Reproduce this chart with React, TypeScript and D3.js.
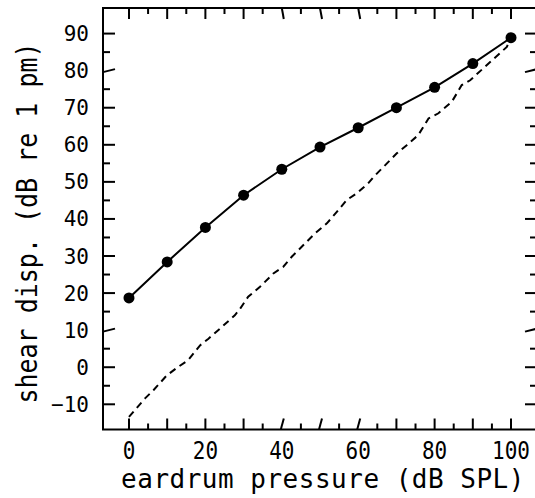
import React from "react";
import * as d3 from "d3";

const W = 535;
const H = 498;

// Solid series (measured points with markers)
const solidX = [0, 10, 20, 30, 40, 50, 60, 70, 80, 90, 100];
const solidY = [18.7, 28.4, 37.7, 46.4, 53.4, 59.4, 64.6, 70.0, 75.5, 81.9, 88.9];

// Dashed series
const dashX = [0, 4.2, 6.4, 9.9, 12.9, 15.5, 18.6, 20.8, 23.8, 27.7, 29.1, 31.2, 34.3, 37.8, 40.4, 42.6, 45.6, 48.7, 51.8, 54.4, 57.0, 59.6, 62.6, 64.0, 70.1, 72.7, 75.7, 78.4, 81.0, 84.5, 87.1, 89.3, 92.7, 98.9, 100];
const dashY = [-13.4, -8.4, -6.2, -2.2, 0.1, 1.9, 5.9, 7.7, 10.4, 14.0, 15.8, 19.0, 21.7, 25.3, 27.1, 29.8, 32.9, 36.1, 38.8, 41.9, 45.1, 46.9, 49.6, 51.3, 57.7, 59.9, 62.6, 67.1, 68.5, 71.6, 76.1, 77.4, 80.6, 86.4, 89.0];

const xTickLabels = [0, 20, 40, 60, 80, 100];
const yTickLabels = [-10, 0, 10, 20, 30, 40, 50, 60, 70, 80, 90];
const xTicks = d3.range(0, 101, 5);
const yTicks = d3.range(-10, 91, 5);
const xSlanted = [40, 50, 60];
const ySlanted = [10, 80];

const xLabel = "eardrum pressure (dB SPL)";
const yLabel = "shear disp. (dB re 1 pm)";

const FONT = "'DejaVu Sans Mono', monospace";

export default function App() {
  const x = d3.scaleLinear().domain([-6.8, 106.8]).range([103, 537]);
  const y = d3.scaleLinear().domain([-16.8, 96.9]).range([429.5, 8]);
  const left = x(-6.8), right = x(106.8), top = y(96.9), bottom = y(-16.8);

  const solidLine = d3.line<number>().x((_, i) => x(solidX[i])).y((d) => y(d));
  const dashLine = d3.line<number>().x((_, i) => x(dashX[i])).y((d) => y(d));

  const xMaj = 11, xMin = 6, yMaj = 12, yMin = 7;

  return (
    <svg width={W} height={H} style={{ position: "absolute", left: 0, top: 0, background: "#fff" }}>
      <rect x={0} y={0} width={W} height={H} fill="#fff" />
      {/* frame */}
      <rect x={left} y={top} width={right - left} height={bottom - top} fill="none" stroke="#000" strokeWidth={2} />
      {/* x ticks */}
      {xTicks.map((t) => {
        const major = t % 10 === 0;
        const len = major ? xMaj : xMin;
        const s = xSlanted.includes(t) ? 2 : 0;
        return (
          <g key={"xt" + t}>
            <line x1={x(t) - s / 2} y1={bottom} x2={x(t) + s} y2={bottom - len} stroke="#000" strokeWidth={2} />
            <line x1={x(t)} y1={top} x2={x(t) + s} y2={top + len} stroke="#000" strokeWidth={2} />
          </g>
        );
      })}
      {/* y ticks */}
      {yTicks.map((t) => {
        const major = t % 10 === 0;
        const len = major ? yMaj : yMin;
        const s = ySlanted.includes(t) ? 3 : 0;
        return (
          <g key={"yt" + t}>
            <line x1={left} y1={y(t) + s / 2} x2={left + len} y2={y(t) - s / 2} stroke="#000" strokeWidth={2} />
            <line x1={right} y1={y(t) - s / 2} x2={right - len} y2={y(t) + s / 2} stroke="#000" strokeWidth={2} />
          </g>
        );
      })}
      {/* tick labels */}
      {xTickLabels.map((t) => (
        <text key={"xl" + t} transform={`translate(${x(t)},459) scale(1,1.15)`} textAnchor="middle" fontFamily={FONT} fontSize={21} fill="#000">
          {t}
        </text>
      ))}
      {yTickLabels.map((t) => (
        <text key={"yl" + t} transform={`translate(89,${y(t)})`} dy="0.36em" textAnchor="end" fontFamily={FONT} fontSize={21} fill="#000">
          {t < 0 ? "\u2212" + Math.abs(t) : t}
        </text>
      ))}
      {/* axis labels */}
      <text x={323} y={488} textAnchor="middle" fontFamily={FONT} fontSize={26} letterSpacing={0.5} fill="#000">
        {xLabel}
      </text>
      <text transform={`translate(37,223) rotate(-90) scale(1,1.15)`} textAnchor="middle" fontFamily={FONT} fontSize={25} fill="#000">
        {yLabel}
      </text>
      {/* lines */}
      <path d={dashLine(dashY) || ""} fill="none" stroke="#000" strokeWidth={2} strokeDasharray="7,5" />
      <path d={solidLine(solidY) || ""} fill="none" stroke="#000" strokeWidth={2} />
      {solidY.map((v, i) => (
        <circle key={"m" + i} cx={x(solidX[i])} cy={y(v)} r={5.5} fill="#000" />
      ))}
    </svg>
  );
}
